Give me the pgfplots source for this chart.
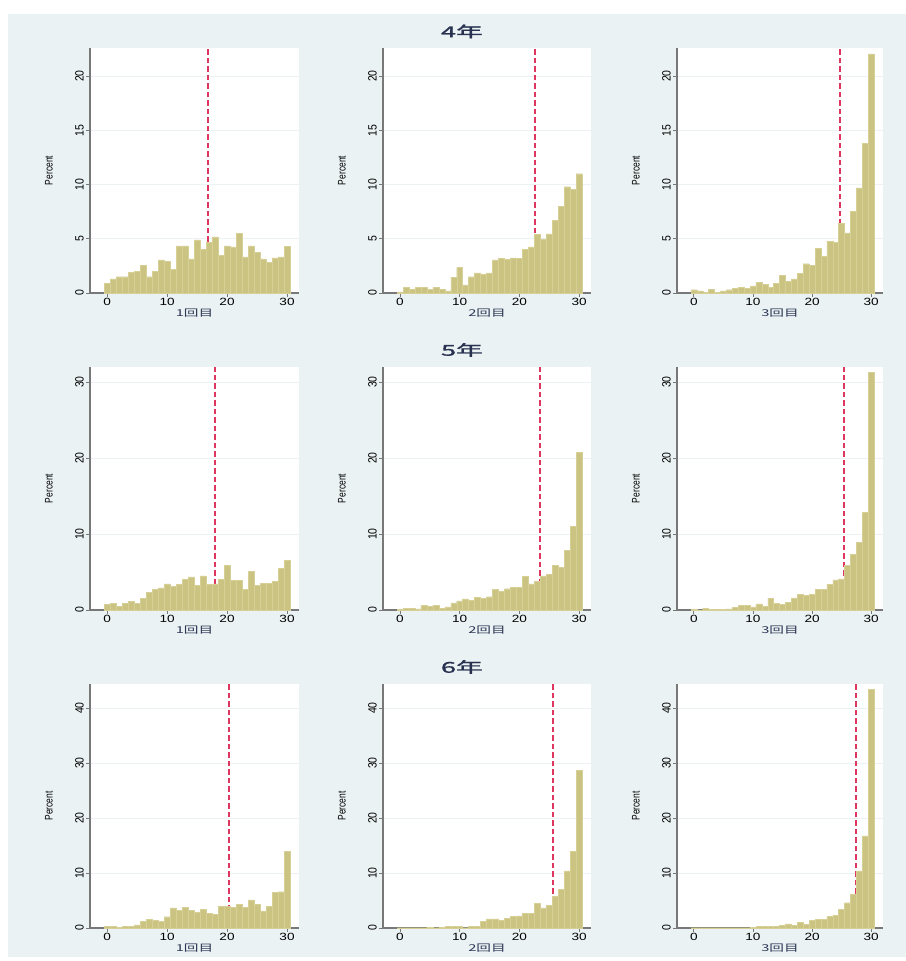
\documentclass[border=0pt]{standalone}
\usepackage{fontspec}
\setmainfont{Liberation Sans}
\newfontfamily\cjk{Noto Sans CJK JP}
\newfontfamily\cjkb[FakeBold=1.2]{Noto Sans CJK JP}
\usepackage{pgfplots}
\pgfplotsset{compat=1.18}
\definecolor{bgc}{RGB}{234,242,243}
\definecolor{gridc}{RGB}{236,242,244}
\definecolor{barc}{RGB}{203,195,130}
\definecolor{barline}{RGB}{214,207,150}
\definecolor{refc}{RGB}{222,55,95}
\definecolor{axc}{RGB}{120,120,120}
\definecolor{titc}{RGB}{40,50,80}
\definecolor{labc}{RGB}{45,55,85}
\pgfplotsset{
  hist/.style={
    scale only axis, anchor=south west,
    xmin=-2.85, xmax=32, ymin=0,
    axis x line*=bottom, axis y line*=left,
    axis line style={-, axc, line width=1.6bp},
    xtick={0,10,20,30},
    tick style={axc, line width=0.8bp},
    tick align=outside, major tick length=4bp,
    ymajorgrids, grid style={gridc, line width=1bp},
    /pgf/number format/assume math mode=true,
    ticklabel style={font=\fontsize{10.5}{11}\selectfont, text=black},
    xticklabel={\scalebox{1.3}[1]{\pgfmathprintnumber{\tick}}},
    yticklabel={\scalebox{1}[1.15]{\pgfmathprintnumber{\tick}}},
    yticklabel style={rotate=90, anchor=south, inner sep=2pt},
    xticklabel style={inner sep=1.5pt},
    ylabel={\scalebox{1}[1.3]{Percent}},
    ylabel style={font=\fontsize{8.5}{10}\selectfont, text=black, yshift=17bp},
    xlabel style={font=\cjk\fontsize{9.5}{10}\selectfont, text=labc, inner sep=0pt, yshift=-1bp},
    axis background/.style={fill=white},
    clip=false,
  },
  hb/.style={ybar, bar width=1, fill=barc, draw=barline, line width=0.4bp},
  rl/.style={refc, line width=2bp, dash pattern=on 5.5bp off 3bp},
  r1/.style={ymax=22.6, ytick={0,5,10,15,20}, height=245bp},
  r2/.style={ymax=32, ytick={0,10,20,30}, height=243bp},
  r3/.style={ymax=44.4, ytick={0,10,20,30,40}, height=244bp},
  c1/.style={width=209bp, xlabel={\scalebox{1.55}[1]{1回目}}},
  c2/.style={width=208bp, xlabel={\scalebox{1.55}[1]{2回目}}},
  c3/.style={width=206bp, xlabel={\scalebox{1.55}[1]{3回目}}},
}
\begin{document}
\begin{tikzpicture}[x=1bp,y=1bp]
\fill[white] (0,0) rectangle (906,961);
\fill[bgc] (8,4) rectangle (906,947);
\useasboundingbox (0,0) rectangle (906,961);
\node[text=titc, font=\cjkb\fontsize{15}{16}\selectfont] at (462,929.5) {\scalebox{1.8}[1]{4年}};
\node[text=titc, font=\cjkb\fontsize{15}{16}\selectfont] at (462,611) {\scalebox{1.8}[1]{5年}};
\node[text=titc, font=\cjkb\fontsize{15}{16}\selectfont] at (462,294) {\scalebox{1.8}[1]{6年}};

% ---------- Row 1: 4年 ----------
\begin{axis}[hist, r1, c1, at={(90bp,668bp)}]
\addplot[rl] coordinates {(16.9,0) (16.9,22.6)};
\addplot[hb] coordinates {
(0,0.9) (1,1.3) (2,1.5) (3,1.5) (4,1.9) (5,2.0) (6,2.55) (7,1.5) (8,2.0) (9,3.05)
(10,2.95) (11,2.15) (12,4.34) (13,4.34) (14,3.15) (15,4.9) (16,4.05) (17,4.65) (18,5.17) (19,3.45)
(20,4.34) (21,4.25) (22,5.48) (23,3.32) (24,4.34) (25,3.78) (26,3.15) (27,2.85) (28,3.25) (29,3.32) (30,4.28)};
\end{axis}

\begin{axis}[hist, r1, c2, at={(383bp,668bp)}]
\addplot[rl] coordinates {(22.6,0) (22.6,22.6)};
\addplot[hb] coordinates {
(0,0.1) (1,0.5) (2,0.35) (3,0.5) (4,0.5) (5,0.35) (6,0.5) (7,0.35) (8,0.2) (9,1.45)
(10,2.35) (11,0.75) (12,1.5) (13,1.85) (14,1.75) (15,1.85) (16,3.05) (17,3.2) (18,3.1) (19,3.25)
(20,3.2) (21,4.05) (22,4.25) (23,5.4) (24,5.0) (25,5.45) (26,6.7) (27,8.0) (28,9.8) (29,9.55) (30,11.0)};
\end{axis}

\begin{axis}[hist, r1, c3, at={(677bp,668bp)}]
\addplot[rl] coordinates {(24.7,0) (24.7,22.6)};
\addplot[hb] coordinates {
(0,0.3) (1,0.2) (2,0.05) (3,0.35) (4,0.05) (5,0.2) (6,0.3) (7,0.4) (8,0.5) (9,0.45)
(10,0.65) (11,1.0) (12,0.8) (13,0.55) (14,0.9) (15,1.65) (16,1.1) (17,1.3) (18,1.8) (19,2.7)
(20,2.55) (21,4.1) (22,3.4) (23,4.75) (24,4.7) (25,6.4) (26,5.55) (27,7.55) (28,9.7) (29,13.8) (30,22.05)};
\end{axis}

% ---------- Row 2: 5年 ----------
\begin{axis}[hist, r2, c1, at={(90bp,351bp)}]
\addplot[rl] coordinates {(18.0,0) (18.0,32)};
\addplot[hb] coordinates {
(0,0.75) (1,0.85) (2,0.45) (3,0.85) (4,1.1) (5,0.85) (6,1.5) (7,2.3) (8,2.7) (9,2.9)
(10,3.45) (11,3.1) (12,3.35) (13,4.0) (14,4.35) (15,3.2) (16,4.5) (17,3.35) (18,3.45) (19,4.0)
(20,5.9) (21,3.9) (22,3.9) (23,2.7) (24,5.1) (25,3.2) (26,3.55) (27,3.55) (28,3.75) (29,5.5) (30,6.55)};
\end{axis}

\begin{axis}[hist, r2, c2, at={(383bp,351bp)}]
\addplot[rl] coordinates {(23.5,0) (23.5,32)};
\addplot[hb] coordinates {
(0,0.05) (1,0.2) (2,0.2) (3,0.15) (4,0.6) (5,0.45) (6,0.65) (7,0.25) (8,0.4) (9,0.95)
(10,1.2) (11,1.45) (12,1.3) (13,1.7) (14,1.5) (15,1.75) (16,2.7) (17,2.45) (18,2.8) (19,3.0)
(20,3.0) (21,4.4) (22,3.45) (23,3.8) (24,4.5) (25,4.65) (26,5.9) (27,5.65) (28,7.85) (29,11.05) (30,20.8)};
\end{axis}

\begin{axis}[hist, r2, c3, at={(677bp,351bp)}]
\addplot[rl] coordinates {(25.4,0) (25.4,32)};
\addplot[hb] coordinates {
(0,0.1) (1,0.02) (2,0.25) (3,0.05) (4,0.1) (5,0.1) (6,0.15) (7,0.35) (8,0.6) (9,0.65)
(10,0.4) (11,0.8) (12,0.5) (13,1.55) (14,0.85) (15,0.7) (16,1.0) (17,1.6) (18,2.1) (19,1.95)
(20,2.05) (21,2.75) (22,2.7) (23,3.4) (24,3.95) (25,4.1) (26,5.9) (27,7.3) (28,8.9) (29,12.9) (30,31.3)};
\end{axis}

% ---------- Row 3: 6年 ----------
\begin{axis}[hist, r3, c1, at={(90bp,33bp)}]
\addplot[rl] coordinates {(20.4,0) (20.4,44.4)};
\addplot[hb] coordinates {
(0,0.25) (1,0.25) (2,0.15) (3,0.25) (4,0.25) (5,0.55) (6,1.15) (7,1.55) (8,1.35) (9,1.25)
(10,2.05) (11,3.65) (12,3.2) (13,3.7) (14,3.25) (15,2.8) (16,3.4) (17,2.65) (18,2.5) (19,4.0)
(20,4.0) (21,3.8) (22,4.3) (23,3.7) (24,5.1) (25,4.3) (26,3.1) (27,4.0) (28,6.45) (29,6.6) (30,13.95)};
\end{axis}

\begin{axis}[hist, r3, c2, at={(383bp,33bp)}]
\addplot[rl] coordinates {(25.7,0) (25.7,44.4)};
\addplot[hb] coordinates {
(0,0.05) (1,0.05) (2,0.05) (3,0.05) (4,0.05) (5,0.15) (6,0.05) (7,0.15) (8,0.25) (9,0.25)
(10,0.35) (11,0.05) (12,0.35) (13,0.35) (14,1.15) (15,1.65) (16,1.65) (17,1.35) (18,1.7) (19,2.1)
(20,2.2) (21,2.65) (22,2.65) (23,4.45) (24,3.65) (25,4.1) (26,5.8) (27,7.05) (28,10.4) (29,13.95) (30,28.7)};
\end{axis}

\begin{axis}[hist, r3, c3, at={(677bp,33bp)}]
\addplot[rl] coordinates {(27.4,0) (27.4,44.4)};
\addplot[hb] coordinates {
(0,0.05) (1,0.05) (2,0.05) (3,0.05) (4,0.05) (5,0.05) (6,0.05) (7,0.05) (8,0.05) (9,0.05)
(10,0.1) (11,0.25) (12,0.25) (13,0.25) (14,0.3) (15,0.45) (16,0.75) (17,0.5) (18,1.0) (19,0.65)
(20,1.4) (21,1.55) (22,1.55) (23,2.1) (24,2.25) (25,3.4) (26,4.6) (27,6.1) (28,10.4) (29,16.75) (30,43.4)};
\end{axis}
\end{tikzpicture}
\end{document}
